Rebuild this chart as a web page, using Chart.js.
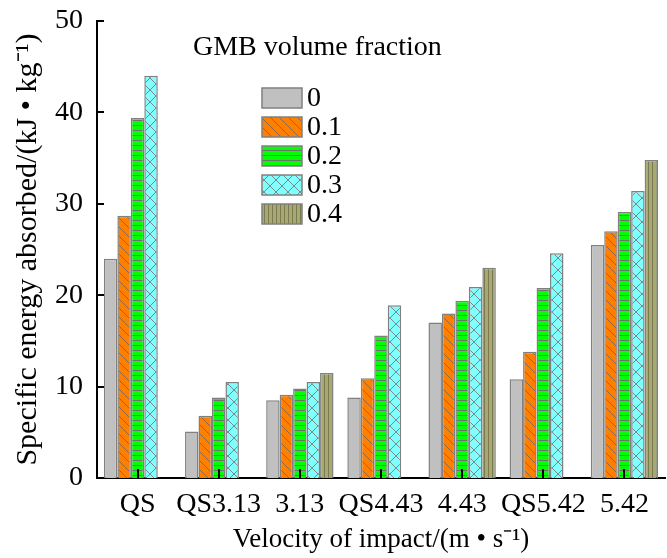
<!DOCTYPE html>
<html>
<head>
<meta charset="utf-8">
<script src="https://cdn.jsdelivr.net/npm/chart.js@4.4.1/dist/chart.umd.min.js"></script>
<style>
  html, body { margin: 0; padding: 0; background: #fff; }
  #wrap { width: 667px; height: 558px; }
</style>
</head>
<body>
<div id="wrap"><canvas id="chart" width="667" height="558"></canvas></div>
<script>
// data
const categories = ['QS', 'QS3.13', '3.13', 'QS4.43', '4.43', 'QS5.42', '5.42'];
const seriesNames = ['0', '0.1', '0.2', '0.3', '0.4'];
const frac0  = [24.0, 5.1, 8.5, 8.8, 17.0, 10.8, 25.5];
const frac01 = [28.7, 6.8, 9.1, 10.9, 18.0, 13.8, 27.0];
const frac02 = [39.4, 8.8, 9.8, 15.6, 19.4, 20.8, 29.1];
const frac03 = [44.0, 10.5, 10.5, 18.9, 20.9, 24.6, 31.4];
const frac04 = [null, null, 11.5, null, 23.0, null, 34.8];
const yTicks = [0, 10, 20, 30, 40, 50];

const FONT = '"Liberation Serif", "Times New Roman", serif';

// hatch fills, similar to the spreadsheet patterns
function makePattern(size, bg, draw) {
    const c = document.createElement('canvas');
    c.width = size; c.height = size;
    const g = c.getContext('2d');
    g.fillStyle = bg;
    g.fillRect(0, 0, size, size);
    g.strokeStyle = '#6e6e6e';
    g.lineWidth = 1;
    draw(g, size);
    return document.getElementById('chart').getContext('2d').createPattern(c, 'repeat');
}

const fills = [
    '#c0c0c0',
    makePattern(9, '#ff7f00', (g, s) => {
        g.strokeStyle = '#8a6a4a';
        g.beginPath();
        g.moveTo(-1, -1); g.lineTo(s + 1, s + 1);
        g.stroke();
    }),
    makePattern(5, '#00ff00', (g, s) => {
        g.fillStyle = '#707070';
        g.fillRect(0, 0, s, 1);
    }),
    makePattern(12, '#80ffff', (g, s) => {
        g.strokeStyle = '#7a8a8a';
        g.beginPath();
        g.moveTo(0, 0); g.lineTo(s, s);
        g.moveTo(s, 0); g.lineTo(0, s);
        g.stroke();
    }),
    makePattern(4, '#a8a872', (g, s) => {
        g.fillStyle = '#7a7a50';
        g.fillRect(0, 0, 1, s);
    })
];

const values = [frac0, frac01, frac02, frac03, frac04];

// inward tick marks on both axes
const innerTicks = {
    id: 'innerTicks',
    afterDraw(chart) {
        const ctx = chart.ctx;
        const x = chart.scales.x, y = chart.scales.y;
        ctx.save();
        ctx.strokeStyle = '#000';
        ctx.lineWidth = 2;
        ctx.beginPath();
        yTicks.forEach(v => {
            const py = Math.round(y.getPixelForValue(v));
            ctx.moveTo(x.left, py); ctx.lineTo(x.left + 7, py);
        });
        categories.forEach((c, i) => {
            const px = Math.round(x.getPixelForValue(i));
            ctx.moveTo(px, y.bottom); ctx.lineTo(px, y.bottom - 9);
        });
        ctx.stroke();
        ctx.restore();
    }
};

// legend box drawn inside the plot, like the original
const boxLegend = {
    id: 'boxLegend',
    afterDraw(chart) {
        const ctx = chart.ctx;
        ctx.save();
        ctx.fillStyle = '#000';
        ctx.font = '28px ' + FONT;
        ctx.textBaseline = 'middle';
        ctx.textAlign = 'left';
        ctx.fillText('GMB volume fraction', 193, 48);
        chart.data.datasets.forEach((ds, i) => {
            const top = 88 + i * 29;
            ctx.fillStyle = ds.backgroundColor;
            ctx.fillRect(262, top, 40, 20);
            ctx.strokeStyle = '#808080';
            ctx.lineWidth = 1.5;
            ctx.strokeRect(262, top, 40, 20);
            ctx.fillStyle = '#000';
            ctx.fillText(ds.label, 307, top + 11);
        });
        ctx.restore();
    }
};

new Chart(document.getElementById('chart'), {
    type: 'bar',
    data: {
        labels: categories,
        datasets: seriesNames.map((name, i) => ({
            label: name,
            data: values[i],
            backgroundColor: fills[i],
            borderColor: '#808080',
            borderWidth: 1.5,
            borderSkipped: 'bottom',
            barPercentage: 1.0,
            categoryPercentage: 0.83
        }))
    },
    options: {
        responsive: false,
        animation: false,
        layout: { padding: { top: 2, right: 2, left: 0, bottom: 0 } },
        plugins: {
            legend: { display: false },
            tooltip: { enabled: false }
        },
        scales: {
            x: {
                grid: { display: false, drawTicks: false },
                border: { display: true, color: '#000', width: 2 },
                ticks: {
                    color: '#000',
                    font: { family: FONT, size: 28 },
                    padding: 10,
                    maxRotation: 0,
                    autoSkip: false
                },
                title: {
                    display: true,
                    text: 'Velocity of impact/(m \u2022 s\u207b\u00b9)',
                    color: '#000',
                    font: { family: FONT, size: 27 },
                    padding: { top: 0, bottom: 2 }
                },
                afterFit(scale) { scale.height = 80; }
            },
            y: {
                min: 0,
                max: 50,
                grid: { display: false, drawTicks: false },
                border: { display: true, color: '#000', width: 2 },
                ticks: {
                    stepSize: 10,
                    color: '#000',
                    font: { family: FONT, size: 28, lineHeight: 0.5 },
                    padding: 14
                },
                title: {
                    display: true,
                    text: 'Specific energy absorbed/(kJ \u2022 kg\u207b\u00b9)',
                    color: '#000',
                    font: { family: FONT, size: 30 },
                    padding: { top: 10, bottom: 4 }
                },
                afterFit(scale) { scale.width = 97; }
            }
        }
    },
    plugins: [innerTicks, boxLegend]
});
</script>
</body>
</html>
